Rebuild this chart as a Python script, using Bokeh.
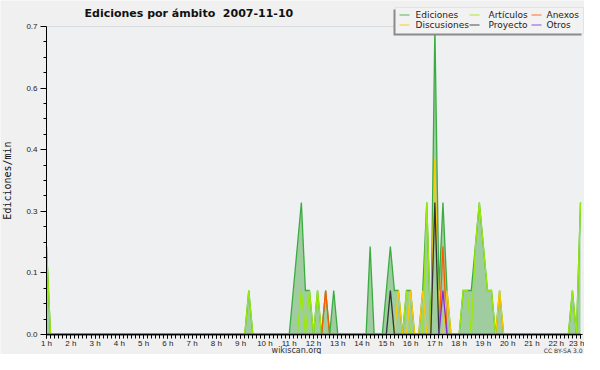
from bokeh.plotting import figure
from bokeh.models import Range1d, FixedTicker, Label, BoxAnnotation
from bokeh.embed import file_html
from bokeh.resources import INLINE

# ---- data: edits per minute in 10-minute bins (only non-zero bins listed) ----
ediciones = {
    "01:00": 0.2, "09:20": 0.1,
    "11:10": 0.1, "11:20": 0.2, "11:30": 0.3, "11:40": 0.1, "11:50": 0.1,
    "12:10": 0.1, "12:30": 0.1, "12:50": 0.1, "14:20": 0.2,
    "15:00": 0.1, "15:10": 0.2, "15:20": 0.1, "15:30": 0.1, "15:50": 0.1, "16:00": 0.1,
    "16:30": 0.1, "16:40": 0.3, "17:00": 0.7, "17:10": 0.1, "17:20": 0.3, "17:30": 0.1,
    "18:10": 0.1, "18:20": 0.1, "18:30": 0.1, "18:40": 0.2, "18:50": 0.3, "19:00": 0.2,
    "19:10": 0.1, "19:20": 0.1, "19:40": 0.1, "22:40": 0.1, "23:00": 0.3,
}
articulos = {
    "01:00": 0.2, "09:20": 0.1, "11:30": 0.1, "11:50": 0.1, "12:10": 0.1,
    "15:50": 0.1, "16:40": 0.3,
    "18:10": 0.1, "18:20": 0.1, "18:40": 0.2, "18:50": 0.3, "19:00": 0.2,
    "19:10": 0.1, "19:20": 0.1, "22:40": 0.1, "23:00": 0.3,
}
anexos = {"12:30": 0.1, "17:20": 0.2}
discusiones = {"15:30": 0.1, "16:00": 0.1, "16:30": 0.1, "17:00": 0.4, "17:30": 0.1, "19:40": 0.1}
proyecto = {"15:10": 0.1, "17:00": 0.3}
otros = {"17:20": 0.1}

series_names = ["Ediciones", "Artículos", "Anexos", "Discusiones", "Proyecto", "Otros"]
series_colors = ["#3aad3f", "#9be80c", "#ff5a00", "#ffc800", "#333333", "#8a2be2"]

hour_ticks = list(range(1, 24))
hour_labels = [f"{h} h" for h in hour_ticks]
y_ticks = [0.0, 0.14, 0.28, 0.42, 0.56, 0.70]
y_tick_labels = ["0.0", "0.1", "0.3", "0.4", "0.6", "0.7"]

# 10-minute slots from 01:00 to 23:00
n_slots = 133
slots = [f"{1 + i // 6:02d}:{(i % 6) * 10:02d}" for i in range(n_slots)]
xs = [1 + i / 6 for i in range(n_slots)]


def full(d):
    return [d.get(s, 0.0) for s in slots]


ys = [full(d) for d in (ediciones, articulos, anexos, discusiones, proyecto, otros)]

# ---- layout (canvas pixels) ----
W, H = 584, 354
X_LEFT_PX, X_RIGHT_PX = 46, 580      # pixel of 1 h and of 23 h
Y_ZERO_PX, Y_TOP_PX = 334, 26        # pixel of 0.0 and of 0.7
px_h = (X_RIGHT_PX - X_LEFT_PX) / 22.0
px_v = (Y_ZERO_PX - Y_TOP_PX) / 0.7
x_start = 1 - X_LEFT_PX / px_h
x_end = 23 + (W - X_RIGHT_PX) / px_h
y_start = -(H - Y_ZERO_PX) / px_v
y_end = 0.7 + Y_TOP_PX / px_v
x_axis_end = 23 + 2 / px_h


def dx(px):
    """canvas pixel x -> data x (frame covers the whole canvas)"""
    return x_start + px / px_h


def dy(py):
    """canvas pixel y (from top) -> data y"""
    return y_start + (H - py) / px_v


def sy(canvas_y):
    """canvas y (from top) -> screen y (from frame bottom)"""
    return H - canvas_y


p = figure(width=W, height=H, x_range=Range1d(x_start, x_end), y_range=Range1d(y_start, y_end),
           output_backend="svg", toolbar_location=None,
           min_border_left=0, min_border_right=0, min_border_top=0, min_border_bottom=0,
           background_fill_color="#f0f0f0", border_fill_color="#f0f0f0",
           outline_line_color=None)

# plot area background
p.add_layout(BoxAnnotation(left=1, right=x_axis_end, bottom=0, top=0.7,
                           fill_color="#eef0f2", fill_alpha=1.0, line_color=None,
                           level="underlay"))
# horizontal grid lines at the y ticks
p.segment(x0=[1] * len(y_ticks), x1=[x_axis_end] * len(y_ticks), y0=y_ticks, y1=y_ticks,
          line_color="#c8c8c8", line_width=1, level="underlay")

# filled total + lines
p.varea(x=xs, y1=[0.0] * n_slots, y2=ys[0], fill_color="#9fcd9f", fill_alpha=1.0)
for k in range(6):
    p.line(xs, ys[k], line_color=series_colors[k], line_width=1.3, line_join="miter")

# axes
p.xgrid.visible = False
p.ygrid.visible = False

x_minor = [1 + i / 6 for i in range(n_slots)]
p.xaxis.ticker = FixedTicker(ticks=hour_ticks, minor_ticks=x_minor)
p.xaxis.major_label_overrides = {float(h): lab for h, lab in zip(hour_ticks, hour_labels)}
p.xaxis.fixed_location = 0
p.xaxis.bounds = (1, x_axis_end)

y_minor = [t + j * 0.035 for t in y_ticks[:-1] for j in (1, 2, 3)]
p.yaxis.ticker = FixedTicker(ticks=y_ticks, minor_ticks=y_minor)
p.yaxis.major_label_overrides = {t: lab for t, lab in zip(y_ticks, y_tick_labels)}
p.yaxis.fixed_location = 1
p.yaxis.bounds = (0, 0.7)

for ax in (p.xaxis[0], p.yaxis[0]):
    ax.axis_line_color = "black"
    ax.major_tick_line_color = "black"
    ax.minor_tick_line_color = "black"
    ax.major_tick_in = 0
    ax.minor_tick_in = 0
    ax.major_label_text_font = "Liberation Sans"
    ax.major_label_text_font_size = "8px"
    ax.major_label_text_color = "#222222"

p.xaxis.major_tick_out = 4
p.xaxis.minor_tick_out = 4
p.xaxis.major_label_standoff = 0

p.yaxis.major_tick_out = 6
p.yaxis.minor_tick_out = 3
p.yaxis.major_label_standoff = 3
p.yaxis.axis_label = "Ediciones/min"
p.yaxis.axis_label_text_font = "DejaVu Sans Mono"
p.yaxis.axis_label_text_font_size = "10px"
p.yaxis.axis_label_text_font_style = "normal"
p.yaxis.axis_label_text_color = "#111111"
p.yaxis.axis_label_standoff = 10

# title and footer texts
p.add_layout(Label(x=84, y=sy(13), x_units="screen", y_units="screen",
                   text="Ediciones por ámbito \u00a02007-11-10", text_font="DejaVu Sans",
                   text_font_style="bold", text_font_size="11px", text_color="#111111",
                   text_baseline="alphabetic", text_align="left"))
p.add_layout(Label(x=296, y=sy(349.5), x_units="screen", y_units="screen",
                   text="wikiscan.org", text_font="DejaVu Sans", text_font_size="8px",
                   text_color="#333333", text_baseline="middle", text_align="center"))
p.add_layout(Label(x=582, y=sy(350), x_units="screen", y_units="screen",
                   text="CC BY-SA 3.0", text_font="DejaVu Sans", text_font_size="6px",
                   text_color="#333333", text_baseline="middle", text_align="right"))

# legend (manual, with shadow)
p.add_layout(BoxAnnotation(left=393, right=581, top=sy(9), bottom=sy(35),
                           left_units="screen", right_units="screen",
                           top_units="screen", bottom_units="screen",
                           fill_color="#8a8a8a", fill_alpha=1.0, line_color=None))
p.add_layout(BoxAnnotation(left=395, right=583, top=sy(7), bottom=sy(33),
                           left_units="screen", right_units="screen",
                           top_units="screen", bottom_units="screen",
                           fill_color="#f2f2f2", fill_alpha=1.0, line_color="#c4c4c4",
                           line_width=1))
col_line_x = [399, 469, 531]
col_text_x = [415, 488, 546]
row_y = [14.5, 24.5]
legend_pos = [(0, 0), (1, 0), (2, 0), (0, 1), (1, 1), (2, 1)]
seg_x0, seg_x1, seg_y, seg_c = [], [], [], []
for k, (c, r) in enumerate(legend_pos):
    seg_x0.append(dx(col_line_x[c]))
    seg_x1.append(dx(col_line_x[c] + 10))
    seg_y.append(dy(row_y[r]))
    seg_c.append(series_colors[k])
    p.add_layout(Label(x=col_text_x[c], y=sy(row_y[r]), x_units="screen", y_units="screen",
                       text=series_names[k], text_font="DejaVu Sans", text_font_size="9px",
                       text_color="#222222", text_baseline="middle", text_align="left"))
leg_lines = p.segment(x0=seg_x0, x1=seg_x1, y0=seg_y, y1=seg_y, line_color=seg_c,
                      line_width=1, line_alpha=0.85)
leg_lines.level = "overlay"

open("out.html", "w").write(file_html(p, INLINE))
